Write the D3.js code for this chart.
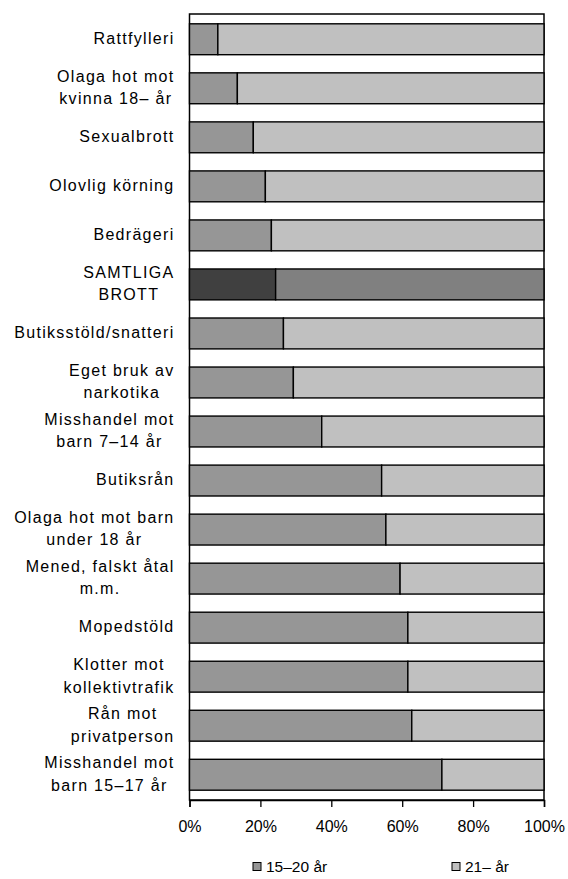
<!DOCTYPE html>
<html>
<head>
<meta charset="utf-8">
<script src="https://cdn.jsdelivr.net/npm/d3@7"></script>
<style>
  body { margin: 0; background: #fff; }
  svg { display: block; font-family: "Liberation Sans", Arial, sans-serif; }
</style>
</head>
<body>
<div class="chart"></div>
<script>
// data
var categories = [
  "Rattfylleri", "Olaga hot mot|kvinna 18\u2013 år", "Sexualbrott", "Olovlig körning",
  "Bedrägeri", "SAMTLIGA|BROTT", "Butiksstöld/snatteri", "Eget bruk av|narkotika",
  "Misshandel mot|barn 7\u201314 år", "Butiksrån", "Olaga hot mot barn|under 18 år",
  "Mened, falskt åtal|m.m.", "Mopedstöld", "Klotter mot|kollektivtrafik",
  "Rån mot|privatperson", "Misshandel mot|barn 15\u201317 år"
];
var young = [8, 13.5, 18, 21.4, 23.1, 24.3, 26.5, 29.3, 37.3, 54.2, 55.4, 59.4, 61.6, 61.6, 62.7, 71.2];
var older = young.map(function(v){ return 100 - v; });
var seriesNames = ["15\u201320 år", "21\u2013 år"];
var tickValues = [0, 20, 40, 60, 80, 100];
var totalIndex = 5;

var svgWidth = 568, svgHeight = 879;
var margin = {top: 14, right: 24, bottom: 79, left: 189.5};
var width = svgWidth - margin.left - margin.right;
var height = svgHeight - margin.top - margin.bottom;

var svg = d3.select(".chart").append("svg")
  .attr("width", svgWidth)
  .attr("height", svgHeight);

var chartGroup = svg.append("g")
  .attr("transform", `translate(${margin.left}, ${margin.top})`);

var xScale = d3.scaleLinear().domain([0, 100]).range([0, width]);
var yScale = d3.scaleBand()
  .domain(d3.range(categories.length))
  .range([0, height])
  .paddingInner(0.37)
  .paddingOuter(0.2);

// frame
chartGroup.append("rect")
  .attr("x", 0).attr("y", 0)
  .attr("width", width).attr("height", height)
  .attr("fill", "#fff")
  .attr("stroke", "#000")
  .attr("stroke-width", 1.5);

var rows = chartGroup.selectAll(".row")
  .data(categories)
  .enter()
  .append("g")
  .attr("class", "row");

// 15-20 år
rows.append("rect")
  .attr("x", xScale(0))
  .attr("y", (d, i) => yScale(i))
  .attr("width", (d, i) => xScale(young[i]) - xScale(0))
  .attr("height", yScale.bandwidth())
  .attr("fill", (d, i) => i === totalIndex ? "#404040" : "#969696")
  .attr("stroke", "#000")
  .attr("stroke-width", 1.4);

// 21- år
rows.append("rect")
  .attr("x", (d, i) => xScale(young[i]))
  .attr("y", (d, i) => yScale(i))
  .attr("width", (d, i) => xScale(young[i] + older[i]) - xScale(young[i]))
  .attr("height", yScale.bandwidth())
  .attr("fill", (d, i) => i === totalIndex ? "#808080" : "#c0c0c0")
  .attr("stroke", "#000")
  .attr("stroke-width", 1.4);

// category labels, lines centred on each other, block right aligned
var labelRight = -15;
rows.each(function(d, i) {
  var lines = d.split("|");
  var g = d3.select(this).append("text")
    .attr("font-size", "16px")
    .attr("letter-spacing", "1.3px")
    .attr("fill", "#000")
    .attr("text-anchor", "middle");
  var cy = yScale(i) + yScale.bandwidth() / 2 - 1;
  var lh = 22.5;
  var y0 = cy - (lines.length - 1) * lh / 2;
  var spans = lines.map(function(l, k) {
    return g.append("tspan").attr("y", y0 + k * lh).attr("dy", "0.35em").text(l);
  });
  var maxW = d3.max(spans, s => s.node().getComputedTextLength());
  spans.forEach(s => s.attr("x", labelRight - maxW / 2));
});

// x axis
var xAxis = d3.axisBottom(xScale)
  .tickValues(tickValues)
  .tickSize(7)
  .tickFormat(d => d + "%");

var axisG = chartGroup.append("g")
  .attr("transform", `translate(0, ${height})`)
  .call(xAxis);
axisG.select(".domain").attr("stroke", "#000").attr("stroke-width", 1.5);
axisG.selectAll(".tick line").attr("stroke", "#000").attr("stroke-width", 1.3);
axisG.selectAll(".tick text")
  .attr("font-size", "16px")
  .attr("font-family", "Liberation Sans, Arial, sans-serif")
  .attr("fill", "#000")
  .attr("y", 21);

// legend
var legendColors = ["#969696", "#c0c0c0"];
var legendX = [253, 452];
var legend = svg.selectAll(".legend")
  .data(seriesNames)
  .enter()
  .append("g")
  .attr("class", "legend")
  .attr("transform", (d, i) => `translate(${legendX[i]}, 867)`);
legend.append("rect")
  .attr("x", 0).attr("y", -4.5)
  .attr("width", 8).attr("height", 8)
  .attr("fill", (d, i) => legendColors[i])
  .attr("stroke", "#000")
  .attr("stroke-width", 1);
legend.append("text")
  .attr("x", 13)
  .attr("y", 0)
  .attr("dy", "0.35em")
  .attr("font-size", "15.5px")
  .text(d => d);
</script>
</body>
</html>
